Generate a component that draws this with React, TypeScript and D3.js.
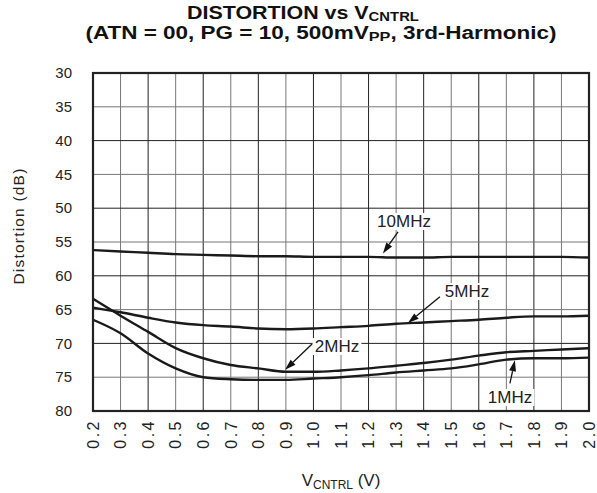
import React from "react";
import * as d3 from "d3";

const vctrl = [0.2, 0.3, 0.4, 0.5, 0.6, 0.7, 0.8, 0.9, 1.0, 1.1, 1.2, 1.3, 1.4, 1.5, 1.6, 1.7, 1.8, 1.9, 2.0];
const dist10MHz = [56.2, 56.4, 56.6, 56.8, 56.9, 57.0, 57.1, 57.1, 57.2, 57.2, 57.2, 57.3, 57.3, 57.2, 57.2, 57.2, 57.2, 57.2, 57.3];
const dist5MHz = [64.7, 65.4, 66.2, 66.9, 67.3, 67.5, 67.8, 67.9, 67.8, 67.6, 67.4, 67.1, 66.9, 66.7, 66.5, 66.2, 66.0, 66.0, 65.9];
const dist2MHz = [63.4, 65.9, 68.3, 70.7, 72.2, 73.2, 73.7, 74.2, 74.2, 74.0, 73.7, 73.3, 72.9, 72.4, 71.8, 71.3, 71.1, 70.9, 70.7];
const dist1MHz = [66.5, 68.5, 71.5, 73.7, 75.0, 75.3, 75.4, 75.4, 75.2, 75.0, 74.7, 74.3, 74.0, 73.7, 73.1, 72.4, 72.2, 72.2, 72.1];
const yTicks = [30, 35, 40, 45, 50, 55, 60, 65, 70, 75, 80];
const xTickLabels = ["0.2", "0.3", "0.4", "0.5", "0.6", "0.7", "0.8", "0.9", "1.0", "1.1", "1.2", "1.3", "1.4", "1.5", "1.6", "1.7", "1.8", "1.9", "2.0"];

// annotations: label, text position (px), arrow start (data), arrow tip (data)
const annotations = [
  { label: "10MHz", tx: 404, ty: 227, ax: [1.307, 53.5], tip: [1.252, 56.7] },
  { label: "5MHz", tx: 467, ty: 297, ax: [1.459, 63.1], tip: [1.343, 67.0] },
  { label: "2MHz", tx: 337, ty: 352, ax: [0.995, 70.1], tip: [0.897, 73.9] },
  { label: "1MHz", tx: 510, ty: 403, ax: [1.713, 75.9], tip: [1.731, 72.5] },
];

const FONT = "'Liberation Sans', Arial, Helvetica, sans-serif";

export default function App() {
  const W = 597, H = 493;
  const x = d3.scaleLinear().domain([0.2, 2.0]).range([93, 589]);
  const y = d3.scaleLinear().domain([30, 80]).range([73, 411]);
  const line = d3
    .line<number>()
    .x((_, i) => x(vctrl[i]))
    .y((d) => y(d))
    .curve(d3.curveMonotoneX);
  const series = [dist10MHz, dist5MHz, dist2MHz, dist1MHz];

  const arrow = (a: number[], t: number[], key: string) => {
    const x0 = x(a[0]), y0 = y(a[1]), x1 = x(t[0]), y1 = y(t[1]);
    const ang = Math.atan2(y1 - y0, x1 - x0);
    const L = 11, Wd = 3.5;
    const bx = x1 - L * Math.cos(ang), by = y1 - L * Math.sin(ang);
    const px = -Math.sin(ang) * Wd, py = Math.cos(ang) * Wd;
    return (
      <g key={key}>
        <line x1={x0} y1={y0} x2={bx} y2={by} stroke="#111" strokeWidth={1.3} />
        <path d={`M${x1},${y1}L${bx + px},${by + py}L${bx - px},${by - py}Z`} fill="#111" />
      </g>
    );
  };

  return (
    <svg width={W} height={H} style={{ position: "absolute", left: 0, top: 0, background: "#fff" }} fontFamily={FONT}>
      <rect x={0} y={0} width={W} height={H} fill="#fff" />
      {/* grid */}
      {vctrl.map((v, i) => (
        <line key={"vg" + i} x1={x(v)} x2={x(v)} y1={y(30)} y2={y(80)} stroke={i % 2 === 0 ? "#222" : "#777"} strokeWidth={1} />
      ))}
      {yTicks.map((t, i) => (
        <line key={"hg" + i} x1={x(0.2)} x2={x(2.0)} y1={y(t)} y2={y(t)} stroke={i % 2 === 0 ? "#222" : "#777"} strokeWidth={1} />
      ))}
      {/* curves */}
      {series.map((s, i) => (
        <path key={"s" + i} d={line(s) || ""} fill="none" stroke="#1a1a1a" strokeWidth={2.4} />
      ))}
      {/* frame */}
      <rect x={x(0.2)} y={y(30)} width={x(2.0) - x(0.2)} height={y(80) - y(30)} fill="none" stroke="#222" strokeWidth={2.2} />
      {/* annotations */}
      {annotations.map((a, i) => (
        <g key={"an" + i}>
          <rect x={a.tx - a.label.length * 5.6 - 2} y={a.ty - 14} width={a.label.length * 11.2 + 4} height={17} fill="#fff" />
          <text x={a.tx} y={a.ty} textAnchor="middle" fontSize={17} fill="#222">{a.label}</text>
          {arrow(a.ax, a.tip, "ar" + i)}
        </g>
      ))}
      {/* y ticks */}
      {yTicks.map((t, i) => (
        <text key={"yt" + i} x={72} y={y(t)} dy="0.35em" textAnchor="end" fontSize={15} fill="#222">{t}</text>
      ))}
      {/* x ticks */}
      {vctrl.map((v, i) => (
        <text key={"xt" + i} transform={`translate(${x(v)},419) rotate(-90)`} dy="0.36em" textAnchor="end" fontSize={16} letterSpacing={2.5} fill="#222">{xTickLabels[i]}</text>
      ))}
      {/* axis titles */}
      <text transform="translate(19,226) rotate(-90)" dy="0.35em" textAnchor="middle" fontSize={15.5} letterSpacing={1.2} fill="#222">Distortion (dB)</text>
      <text x={341} y={486} textAnchor="middle" fontSize={17} fill="#222">
        V<tspan fontSize={12} dy={3}>CNTRL</tspan><tspan dy={-3}> (V)</tspan>
      </text>
      {/* title */}
      <g transform="translate(303,19) scale(1.19,1)">
        <text x={0} y={0} textAnchor="middle" fontSize={18} fontWeight="bold" fill="#111">
          DISTORTION vs V<tspan fontSize={12.5} dy={1.5}>CNTRL</tspan>
        </text>
      </g>
      <g transform="translate(321,39) scale(1.25,1)">
        <text x={0} y={0} textAnchor="middle" fontSize={18} fontWeight="bold" fill="#111">
          (ATN = 00, PG = 10, 500mV<tspan fontSize={13} dy={2}>PP</tspan><tspan dy={-2}>, 3rd-Harmonic)</tspan>
        </text>
      </g>
    </svg>
  );
}
